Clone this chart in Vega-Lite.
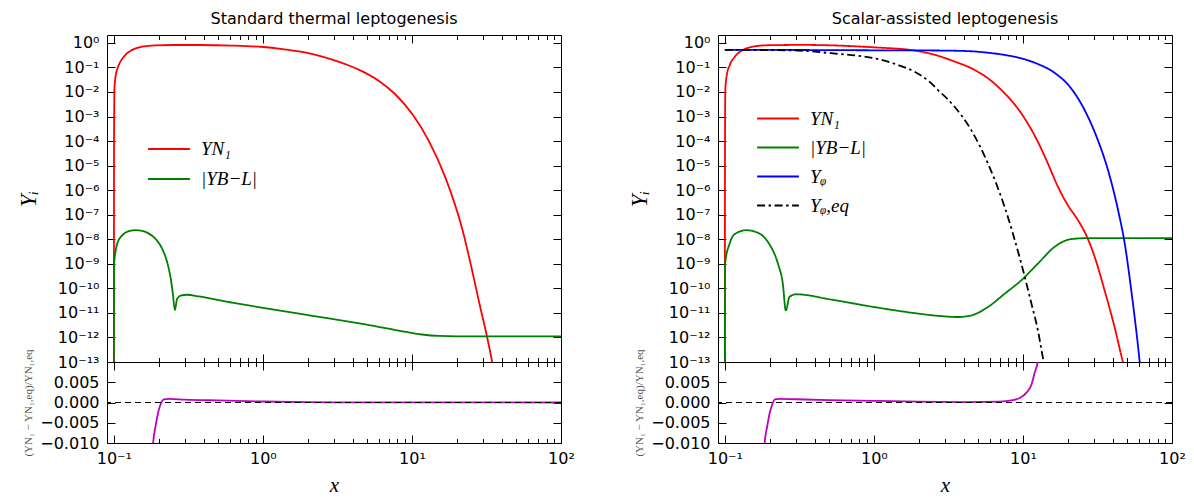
{
 "$schema": "https://vega.github.io/schema/vega-lite/v6.json",
 "background": "white",
 "padding": {"left": 16, "top": 10, "right": 5, "bottom": 0},
 "config": {
  "view": {"stroke": "black", "strokeWidth": 1},
  "axis": {"domain": false, "grid": false, "tickColor": "black", "labelColor": "black", "labelFont": "DejaVu Sans", "labelFontSize": 16, "tickWidth": 1, "titleColor": "black", "titleFontWeight": "normal"},
  "title": {"font": "DejaVu Sans", "fontSize": 16, "fontWeight": "normal", "color": "black", "offset": 8, "frame": "group"},
  "line": {"strokeWidth": 1.8, "interpolate": "monotone"}
 },
 "datasets": {
  "main": [
   {"p":"L","s":"YN₁","x":0.1,"y":1e-16},{"p":"L","s":"YN₁","x":0.1003,"y":1e-4},{"p":"L","s":"YN₁","x":0.1008,"y":0.012},{"p":"L","s":"YN₁","x":0.1027,"y":0.043},{"p":"L","s":"YN₁","x":0.108,"y":0.126},{"p":"L","s":"YN₁","x":0.1167,"y":0.275},{"p":"L","s":"YN₁","x":0.1327,"y":0.52},{"p":"L","s":"YN₁","x":0.155,"y":0.71},{"p":"L","s":"YN₁","x":0.19,"y":0.8},{"p":"L","s":"YN₁","x":0.25,"y":0.82},{"p":"L","s":"YN₁","x":0.372,"y":0.82},{"p":"L","s":"YN₁","x":0.622,"y":0.78},{"p":"L","s":"YN₁","x":1.0,"y":0.68},{"p":"L","s":"YN₁","x":1.35,"y":0.56},{"p":"L","s":"YN₁","x":1.75,"y":0.45},{"p":"L","s":"YN₁","x":2.26,"y":0.324},{"p":"L","s":"YN₁","x":2.92,"y":0.209},{"p":"L","s":"YN₁","x":3.78,"y":0.12},{"p":"L","s":"YN₁","x":4.65,"y":0.0692},{"p":"L","s":"YN₁","x":6.01,"y":0.0282},{"p":"L","s":"YN₁","x":7.76,"y":7.9e-3},{"p":"L","s":"YN₁","x":10.05,"y":1.26e-3},{"p":"L","s":"YN₁","x":13.0,"y":1.0e-4},{"p":"L","s":"YN₁","x":16.8,"y":3.16e-6},{"p":"L","s":"YN₁","x":21.8,"y":2.5e-8},{"p":"L","s":"YN₁","x":25.4,"y":5.0e-10},{"p":"L","s":"YN₁","x":28.2,"y":2.8e-11},{"p":"L","s":"YN₁","x":32.1,"y":8.9e-13},{"p":"L","s":"YN₁","x":34.6,"y":8.9e-14},{"p":"L","s":"YN₁","x":36.5,"y":1e-14},
   {"p":"L","s":"|YB−L|","x":0.1,"y":1e-16},{"p":"L","s":"|YB−L|","x":0.1004,"y":1e-9},{"p":"L","s":"|YB−L|","x":0.1053,"y":6.6e-9},{"p":"L","s":"|YB−L|","x":0.1138,"y":1.45e-8},{"p":"L","s":"|YB−L|","x":0.1262,"y":2.14e-8},{"p":"L","s":"|YB−L|","x":0.14,"y":2.34e-8},{"p":"L","s":"|YB−L|","x":0.155,"y":2.19e-8},{"p":"L","s":"|YB−L|","x":0.172,"y":1.7e-8},{"p":"L","s":"|YB−L|","x":0.19,"y":1.07e-8},{"p":"L","s":"|YB−L|","x":0.211,"y":4.2e-9},{"p":"L","s":"|YB−L|","x":0.228,"y":1.17e-9},{"p":"L","s":"|YB−L|","x":0.24,"y":2.9e-10},{"p":"L","s":"|YB−L|","x":0.249,"y":6.0e-11},{"p":"L","s":"|YB−L|","x":0.2565,"y":1.3e-11},{"p":"L","s":"|YB−L|","x":0.266,"y":3.8e-11},{"p":"L","s":"|YB−L|","x":0.2805,"y":5.1e-11},{"p":"L","s":"|YB−L|","x":0.31,"y":5.5e-11},{"p":"L","s":"|YB−L|","x":0.372,"y":4.7e-11},{"p":"L","s":"|YB−L|","x":0.622,"y":2.63e-11},{"p":"L","s":"|YB−L|","x":1.0,"y":1.62e-11},{"p":"L","s":"|YB−L|","x":1.75,"y":9.3e-12},{"p":"L","s":"|YB−L|","x":2.77,"y":6.0e-12},{"p":"L","s":"|YB−L|","x":4.65,"y":3.55e-12},{"p":"L","s":"|YB−L|","x":7.76,"y":2.0e-12},{"p":"L","s":"|YB−L|","x":11.7,"y":1.32e-12},{"p":"L","s":"|YB−L|","x":15.2,"y":1.15e-12},{"p":"L","s":"|YB−L|","x":20,"y":1.1e-12},{"p":"L","s":"|YB−L|","x":100,"y":1.1e-12},
   {"p":"R","s":"YN₁","x":0.1,"y":1e-16},{"p":"R","s":"YN₁","x":0.1003,"y":1e-4},{"p":"R","s":"YN₁","x":0.1008,"y":0.012},{"p":"R","s":"YN₁","x":0.1027,"y":0.043},{"p":"R","s":"YN₁","x":0.108,"y":0.126},{"p":"R","s":"YN₁","x":0.1167,"y":0.275},{"p":"R","s":"YN₁","x":0.1327,"y":0.52},{"p":"R","s":"YN₁","x":0.155,"y":0.71},{"p":"R","s":"YN₁","x":0.19,"y":0.8},{"p":"R","s":"YN₁","x":0.25,"y":0.82},{"p":"R","s":"YN₁","x":0.309,"y":0.83},{"p":"R","s":"YN₁","x":0.5,"y":0.8},{"p":"R","s":"YN₁","x":1.0,"y":0.66},{"p":"R","s":"YN₁","x":1.875,"y":0.49},{"p":"R","s":"YN₁","x":2.69,"y":0.3},{"p":"R","s":"YN₁","x":3.48,"y":0.174},{"p":"R","s":"YN₁","x":4.5,"y":0.0933},{"p":"R","s":"YN₁","x":5.82,"y":0.0363},{"p":"R","s":"YN₁","x":7.53,"y":8.9e-3},{"p":"R","s":"YN₁","x":9.75,"y":1.35e-3},{"p":"R","s":"YN₁","x":12.6,"y":9.3e-5},{"p":"R","s":"YN₁","x":14.7,"y":1.23e-5},{"p":"R","s":"YN₁","x":17.2,"y":1.35e-6},{"p":"R","s":"YN₁","x":20.0,"y":2.45e-7},{"p":"R","s":"YN₁","x":23.4,"y":6.0e-8},{"p":"R","s":"YN₁","x":26.6,"y":1.45e-8},{"p":"R","s":"YN₁","x":30.3,"y":1.9e-9},{"p":"R","s":"YN₁","x":35.3,"y":8.3e-11},{"p":"R","s":"YN₁","x":41.2,"y":2.6e-12},{"p":"R","s":"YN₁","x":46.9,"y":1e-13},{"p":"R","s":"YN₁","x":50.1,"y":2.5e-14},
   {"p":"R","s":"|YB−L|","x":0.1,"y":1e-16},{"p":"R","s":"|YB−L|","x":0.1004,"y":1e-9},{"p":"R","s":"|YB−L|","x":0.1076,"y":6.6e-9},{"p":"R","s":"|YB−L|","x":0.116,"y":1.58e-8},{"p":"R","s":"|YB−L|","x":0.139,"y":2.34e-8},{"p":"R","s":"|YB−L|","x":0.166,"y":1.86e-8},{"p":"R","s":"|YB−L|","x":0.1945,"y":7.8e-9},{"p":"R","s":"|YB−L|","x":0.227,"y":1.02e-9},{"p":"R","s":"|YB−L|","x":0.245,"y":1.55e-10},{"p":"R","s":"|YB−L|","x":0.2565,"y":1.26e-11},{"p":"R","s":"|YB−L|","x":0.2715,"y":4.5e-11},{"p":"R","s":"|YB−L|","x":0.301,"y":5.75e-11},{"p":"R","s":"|YB−L|","x":0.516,"y":3.5e-11},{"p":"R","s":"|YB−L|","x":1.0,"y":1.74e-11},{"p":"R","s":"|YB−L|","x":1.875,"y":9.8e-12},{"p":"R","s":"|YB−L|","x":2.69,"y":7.6e-12},{"p":"R","s":"|YB−L|","x":3.66,"y":6.8e-12},{"p":"R","s":"|YB−L|","x":4.5,"y":7.9e-12},{"p":"R","s":"|YB−L|","x":5.82,"y":1.74e-11},{"p":"R","s":"|YB−L|","x":7.53,"y":6.0e-11},{"p":"R","s":"|YB−L|","x":9.75,"y":2.14e-10},{"p":"R","s":"|YB−L|","x":12.6,"y":1.02e-9},{"p":"R","s":"|YB−L|","x":16.3,"y":4.9e-9},{"p":"R","s":"|YB−L|","x":21.1,"y":1.02e-8},{"p":"R","s":"|YB−L|","x":28.2,"y":1.12e-8},{"p":"R","s":"|YB−L|","x":100,"y":1.12e-8},
   {"p":"R","s":"Yᵩ","x":0.1,"y":0.52},{"p":"R","s":"Yᵩ","x":0.3,"y":0.515},{"p":"R","s":"Yᵩ","x":1.0,"y":0.5},{"p":"R","s":"Yᵩ","x":2.69,"y":0.49},{"p":"R","s":"Yᵩ","x":4.5,"y":0.457},{"p":"R","s":"Yᵩ","x":5.82,"y":0.398},{"p":"R","s":"Yᵩ","x":7.53,"y":0.324},{"p":"R","s":"Yᵩ","x":9.75,"y":0.234},{"p":"R","s":"Yᵩ","x":12.6,"y":0.138},{"p":"R","s":"Yᵩ","x":16.3,"y":0.0603},{"p":"R","s":"Yᵩ","x":21.1,"y":0.0138},{"p":"R","s":"Yᵩ","x":27.3,"y":9.8e-4},{"p":"R","s":"Yᵩ","x":31.8,"y":1.1e-4},{"p":"R","s":"Yᵩ","x":37.2,"y":6.6e-6},{"p":"R","s":"Yᵩ","x":43.5,"y":1.5e-7},{"p":"R","s":"Yᵩ","x":48.2,"y":6.6e-9},{"p":"R","s":"Yᵩ","x":53.3,"y":8.3e-11},{"p":"R","s":"Yᵩ","x":60.7,"y":1e-13},{"p":"R","s":"Yᵩ","x":63,"y":1e-14},
   {"p":"R","s":"Yᵩ,eq","x":0.1,"y":0.52},{"p":"R","s":"Yᵩ,eq","x":0.2,"y":0.51},{"p":"R","s":"Yᵩ,eq","x":0.309,"y":0.49},{"p":"R","s":"Yᵩ,eq","x":0.516,"y":0.38},{"p":"R","s":"Yᵩ,eq","x":0.867,"y":0.275},{"p":"R","s":"Yᵩ,eq","x":1.12,"y":0.204},{"p":"R","s":"Yᵩ,eq","x":1.45,"y":0.126},{"p":"R","s":"Yᵩ,eq","x":1.875,"y":0.0676},{"p":"R","s":"Yᵩ,eq","x":2.43,"y":0.0224},{"p":"R","s":"Yᵩ,eq","x":2.69,"y":0.012},{"p":"R","s":"Yᵩ,eq","x":3.14,"y":5.0e-3},{"p":"R","s":"Yᵩ,eq","x":3.48,"y":2.5e-3},{"p":"R","s":"Yᵩ,eq","x":4.5,"y":2.8e-4},{"p":"R","s":"Yᵩ,eq","x":5.82,"y":1.23e-5},{"p":"R","s":"Yᵩ,eq","x":7.53,"y":2.1e-7},{"p":"R","s":"Yᵩ,eq","x":9.75,"y":1.02e-9},{"p":"R","s":"Yᵩ,eq","x":11.4,"y":2.4e-11},{"p":"R","s":"Yᵩ,eq","x":12.6,"y":1.95e-12},{"p":"R","s":"Yᵩ,eq","x":13.8,"y":1e-13},{"p":"R","s":"Yᵩ,eq","x":14.5,"y":3e-14}
  ],
  "res": [
   {"p":"L","x":0.18,"r":-0.02},{"p":"L","x":0.1836,"r":-0.01},{"p":"L","x":0.1905,"r":-0.0059},{"p":"L","x":0.198,"r":-0.0026},{"p":"L","x":0.2057,"r":-0.0005},{"p":"L","x":0.2166,"r":0.00075},{"p":"L","x":0.234,"r":0.0009},{"p":"L","x":0.3,"r":0.0007},{"p":"L","x":0.5,"r":0.0005},{"p":"L","x":1,"r":0.00025},{"p":"L","x":2,"r":0.0001},{"p":"L","x":5,"r":0.00003},{"p":"L","x":100,"r":0},
   {"p":"R","x":0.18,"r":-0.02},{"p":"R","x":0.185,"r":-0.01},{"p":"R","x":0.1925,"r":-0.0059},{"p":"R","x":0.2,"r":-0.0026},{"p":"R","x":0.208,"r":-0.0005},{"p":"R","x":0.2166,"r":0.00075},{"p":"R","x":0.234,"r":0.0009},{"p":"R","x":0.3,"r":0.0008},{"p":"R","x":0.5,"r":0.0006},{"p":"R","x":1,"r":0.0004},{"p":"R","x":2,"r":0.0002},{"p":"R","x":4,"r":0.0001},{"p":"R","x":7,"r":0.0002},{"p":"R","x":8.35,"r":0.0005},{"p":"R","x":9.5,"r":0.0011},{"p":"R","x":10.5,"r":0.0023},{"p":"R","x":11.4,"r":0.0044},{"p":"R","x":11.97,"r":0.0073},{"p":"R","x":12.6,"r":0.0103},{"p":"R","x":13.2,"r":0.02}
  ]
 },
 "spacing": 52,
 "resolve": {"scale": {"color": "independent", "strokeDash": "independent"}, "legend": {"color": "independent", "strokeDash": "independent"}},
 "hconcat": [
  {
   "spacing": 0,
   "bounds": "flush",
   "resolve": {"scale": {"x": "independent", "y": "independent"}, "axis": {"x": "independent", "y": "independent"}},
   "vconcat": [
    {
     "width": 454, "height": 327,
     "title": {"text": "Standard thermal leptogenesis"},
     "data": {"name": "main"},
     "transform": [{"filter": "datum.p == 'L'"}],
     "resolve": {"axis": {"x": "independent", "y": "independent"}},
     "layer": [
      {
       "mark": {"type": "line", "clip": true},
       "encoding": {
        "x": {"field": "x", "type": "quantitative", "scale": {"type": "log", "domain": [0.09, 100], "nice": false},
              "axis": {"orient": "bottom", "values": [0.1,0.2,0.3,0.4,0.5,0.6,0.7,0.8,0.9,1,2,3,4,5,6,7,8,9,10,20,30,40,50,60,70,80,90,100], "labels": false, "title": null,
                       "tickSize": {"condition": {"test": "indexof([0.1,1,10,100], datum.value) >= 0", "value": -8}, "value": -4.5}}},
        "y": {"field": "y", "type": "quantitative", "scale": {"type": "log", "domain": [1e-13, 2.1], "nice": false},
              "axis": {"orient": "left", "values": [1e-13,1e-12,1e-11,1e-10,1e-9,1e-8,1e-7,1e-6,1e-5,1e-4,1e-3,1e-2,1e-1,1], "tickSize": -8, "labelPadding": 16,
                       "labelExpr": "'10' + (datum.value < 0.5 ? '⁻' : '') + (abs(round(log(datum.value)/LN10)) >= 10 ? '¹' : '') + ['⁰','¹','²','³','⁴','⁵','⁶','⁷','⁸','⁹'][abs(round(log(datum.value)/LN10)) % 10]",
                       "title": "Yᵢ", "titleFont": "Liberation Serif", "titleFontStyle": "italic", "titleFontSize": 23, "titlePadding": 17}},
        "color": {"field": "s", "type": "nominal", "sort": null,
                  "scale": {"domain": ["YN₁", "|YB−L|"], "range": ["#ff0000", "#008000"]},
                  "legend": {"orient": "none", "legendX": 40, "legendY": 99, "title": null, "symbolType": "stroke", "symbolSize": 1750, "symbolStrokeWidth": 2,
                             "labelFont": "Liberation Serif", "labelFontStyle": "italic", "labelFontSize": 19, "labelOffset": 10, "clipHeight": 30, "rowPadding": 0, "padding": 0, "labelLimit": 300}}
       }
      },
      {
       "mark": {"type": "line", "opacity": 0, "clip": true},
       "encoding": {
        "x": {"field": "x", "type": "quantitative", "axis": {"orient": "top", "values": [0.1,0.2,0.3,0.4,0.5,0.6,0.7,0.8,0.9,1,2,3,4,5,6,7,8,9,10,20,30,40,50,60,70,80,90,100], "labels": false, "title": null,
                       "tickSize": {"condition": {"test": "indexof([0.1,1,10,100], datum.value) >= 0", "value": -8}, "value": -4.5}}},
        "y": {"field": "y", "type": "quantitative", "axis": {"orient": "right", "values": [1e-13,1e-12,1e-11,1e-10,1e-9,1e-8,1e-7,1e-6,1e-5,1e-4,1e-3,1e-2,1e-1,1], "tickSize": -8, "labels": false, "title": null}}
       }
      }
     ]
    },
    {
     "width": 454, "height": 81,
     "data": {"name": "res"},
     "transform": [{"filter": "datum.p == 'L'"}],
     "resolve": {"axis": {"x": "independent", "y": "independent"}},
     "layer": [
      {
       "mark": {"type": "line", "color": "#bf00bf", "clip": true},
       "encoding": {
        "x": {"field": "x", "type": "quantitative", "scale": {"type": "log", "domain": [0.09, 100], "nice": false},
              "axis": {"orient": "bottom", "values": [0.1,0.2,0.3,0.4,0.5,0.6,0.7,0.8,0.9,1,2,3,4,5,6,7,8,9,10,20,30,40,50,60,70,80,90,100],
                       "labelExpr": "datum.value == 0.1 ? '10⁻¹' : datum.value == 1 ? '10⁰' : datum.value == 10 ? '10¹' : datum.value == 100 ? '10²' : ''",
                       "labelPadding": 15, "labelFlush": false, "labelOverlap": false,
                       "tickSize": {"condition": {"test": "indexof([0.1,1,10,100], datum.value) >= 0", "value": -8}, "value": -4.5},
                       "title": "x", "titleFont": "Liberation Serif", "titleFontStyle": "italic", "titleFontSize": 21, "titlePadding": 5}},
        "y": {"field": "r", "type": "quantitative", "scale": {"domain": [-0.01, 0.01], "nice": false, "zero": false},
              "axis": {"orient": "left", "values": [-0.01, -0.005, 0, 0.005], "format": ".3f", "tickSize": -8, "labelPadding": 16,
                       "title": "(YN₁ − YN₁,eq)/YN₁,eq", "titleFont": "Liberation Serif", "titleFontSize": 11, "titleColor": "#555555", "titlePadding": 6}}
       }
      },
      {
       "mark": {"type": "rule", "color": "black", "strokeWidth": 1, "strokeDash": [6, 4]},
       "encoding": {"y": {"datum": 0, "type": "quantitative", "axis": null}}
      },
      {
       "mark": {"type": "line", "opacity": 0, "clip": true},
       "encoding": {
        "x": {"field": "x", "type": "quantitative", "axis": {"orient": "top", "values": [0.1,0.2,0.3,0.4,0.5,0.6,0.7,0.8,0.9,1,2,3,4,5,6,7,8,9,10,20,30,40,50,60,70,80,90,100], "labels": false, "title": null,
                       "tickSize": {"condition": {"test": "indexof([0.1,1,10,100], datum.value) >= 0", "value": -8}, "value": -4.5}}},
        "y": {"field": "r", "type": "quantitative", "axis": {"orient": "right", "values": [-0.01, -0.005, 0, 0.005], "tickSize": -8, "labels": false, "title": null}}
       }
      }
     ]
    }
   ]
  },
  {
   "spacing": 0,
   "bounds": "flush",
   "resolve": {"scale": {"x": "independent", "y": "independent"}, "axis": {"x": "independent", "y": "independent"}},
   "vconcat": [
    {
     "width": 454, "height": 327,
     "title": {"text": "Scalar-assisted leptogenesis"},
     "data": {"name": "main"},
     "transform": [{"filter": "datum.p == 'R'"}],
     "resolve": {"axis": {"x": "independent", "y": "independent"}},
     "layer": [
      {
       "mark": {"type": "line", "clip": true},
       "encoding": {
        "x": {"field": "x", "type": "quantitative", "scale": {"type": "log", "domain": [0.09, 100], "nice": false},
              "axis": {"orient": "bottom", "values": [0.1,0.2,0.3,0.4,0.5,0.6,0.7,0.8,0.9,1,2,3,4,5,6,7,8,9,10,20,30,40,50,60,70,80,90,100], "labels": false, "title": null,
                       "tickSize": {"condition": {"test": "indexof([0.1,1,10,100], datum.value) >= 0", "value": -8}, "value": -4.5}}},
        "y": {"field": "y", "type": "quantitative", "scale": {"type": "log", "domain": [1e-13, 2.1], "nice": false},
              "axis": {"orient": "left", "values": [1e-13,1e-12,1e-11,1e-10,1e-9,1e-8,1e-7,1e-6,1e-5,1e-4,1e-3,1e-2,1e-1,1], "tickSize": -8, "labelPadding": 16,
                       "labelExpr": "'10' + (datum.value < 0.5 ? '⁻' : '') + (abs(round(log(datum.value)/LN10)) >= 10 ? '¹' : '') + ['⁰','¹','²','³','⁴','⁵','⁶','⁷','⁸','⁹'][abs(round(log(datum.value)/LN10)) % 10]",
                       "title": "Yᵢ", "titleFont": "Liberation Serif", "titleFontStyle": "italic", "titleFontSize": 23, "titlePadding": 17}},
        "color": {"field": "s", "type": "nominal", "sort": null,
                  "scale": {"domain": ["YN₁", "|YB−L|", "Yᵩ", "Yᵩ,eq"], "range": ["#ff0000", "#008000", "#0000ff", "#000000"]},
                  "legend": {"orient": "none", "legendX": 38, "legendY": 69, "title": null, "symbolType": "stroke", "symbolSize": 1750, "symbolStrokeWidth": 2,
                             "labelFont": "Liberation Serif", "labelFontStyle": "italic", "labelFontSize": 19, "labelOffset": 10, "clipHeight": 29, "rowPadding": 0, "padding": 0, "labelLimit": 300}},
        "strokeDash": {"field": "s", "type": "nominal", "sort": null,
                  "scale": {"domain": ["YN₁", "|YB−L|", "Yᵩ", "Yᵩ,eq"], "range": [[1, 0], [1, 0], [1, 0], [8, 3.5, 2.5, 3.5]]},
                  "legend": {"orient": "none", "legendX": 38, "legendY": 69, "title": null, "symbolType": "stroke", "symbolSize": 1750, "symbolStrokeWidth": 2,
                             "labelFont": "Liberation Serif", "labelFontStyle": "italic", "labelFontSize": 19, "labelOffset": 10, "clipHeight": 29, "rowPadding": 0, "padding": 0, "labelLimit": 300}}
       }
      },
      {
       "mark": {"type": "line", "opacity": 0, "clip": true},
       "encoding": {
        "x": {"field": "x", "type": "quantitative", "axis": {"orient": "top", "values": [0.1,0.2,0.3,0.4,0.5,0.6,0.7,0.8,0.9,1,2,3,4,5,6,7,8,9,10,20,30,40,50,60,70,80,90,100], "labels": false, "title": null,
                       "tickSize": {"condition": {"test": "indexof([0.1,1,10,100], datum.value) >= 0", "value": -8}, "value": -4.5}}},
        "y": {"field": "y", "type": "quantitative", "axis": {"orient": "right", "values": [1e-13,1e-12,1e-11,1e-10,1e-9,1e-8,1e-7,1e-6,1e-5,1e-4,1e-3,1e-2,1e-1,1], "tickSize": -8, "labels": false, "title": null}}
       }
      }
     ]
    },
    {
     "width": 454, "height": 81,
     "data": {"name": "res"},
     "transform": [{"filter": "datum.p == 'R'"}],
     "resolve": {"axis": {"x": "independent", "y": "independent"}},
     "layer": [
      {
       "mark": {"type": "line", "color": "#bf00bf", "clip": true},
       "encoding": {
        "x": {"field": "x", "type": "quantitative", "scale": {"type": "log", "domain": [0.09, 100], "nice": false},
              "axis": {"orient": "bottom", "values": [0.1,0.2,0.3,0.4,0.5,0.6,0.7,0.8,0.9,1,2,3,4,5,6,7,8,9,10,20,30,40,50,60,70,80,90,100],
                       "labelExpr": "datum.value == 0.1 ? '10⁻¹' : datum.value == 1 ? '10⁰' : datum.value == 10 ? '10¹' : datum.value == 100 ? '10²' : ''",
                       "labelPadding": 15, "labelFlush": false, "labelOverlap": false,
                       "tickSize": {"condition": {"test": "indexof([0.1,1,10,100], datum.value) >= 0", "value": -8}, "value": -4.5},
                       "title": "x", "titleFont": "Liberation Serif", "titleFontStyle": "italic", "titleFontSize": 21, "titlePadding": 5}},
        "y": {"field": "r", "type": "quantitative", "scale": {"domain": [-0.01, 0.01], "nice": false, "zero": false},
              "axis": {"orient": "left", "values": [-0.01, -0.005, 0, 0.005], "format": ".3f", "tickSize": -8, "labelPadding": 16,
                       "title": "(YN₁ − YN₁,eq)/YN₁,eq", "titleFont": "Liberation Serif", "titleFontSize": 11, "titleColor": "#555555", "titlePadding": 6}}
       }
      },
      {
       "mark": {"type": "rule", "color": "black", "strokeWidth": 1, "strokeDash": [6, 4]},
       "encoding": {"y": {"datum": 0, "type": "quantitative", "axis": null}}
      },
      {
       "mark": {"type": "line", "opacity": 0, "clip": true},
       "encoding": {
        "x": {"field": "x", "type": "quantitative", "axis": {"orient": "top", "values": [0.1,0.2,0.3,0.4,0.5,0.6,0.7,0.8,0.9,1,2,3,4,5,6,7,8,9,10,20,30,40,50,60,70,80,90,100], "labels": false, "title": null,
                       "tickSize": {"condition": {"test": "indexof([0.1,1,10,100], datum.value) >= 0", "value": -8}, "value": -4.5}}},
        "y": {"field": "r", "type": "quantitative", "axis": {"orient": "right", "values": [-0.01, -0.005, 0, 0.005], "tickSize": -8, "labels": false, "title": null}}
       }
      }
     ]
    }
   ]
  }
 ]
}
